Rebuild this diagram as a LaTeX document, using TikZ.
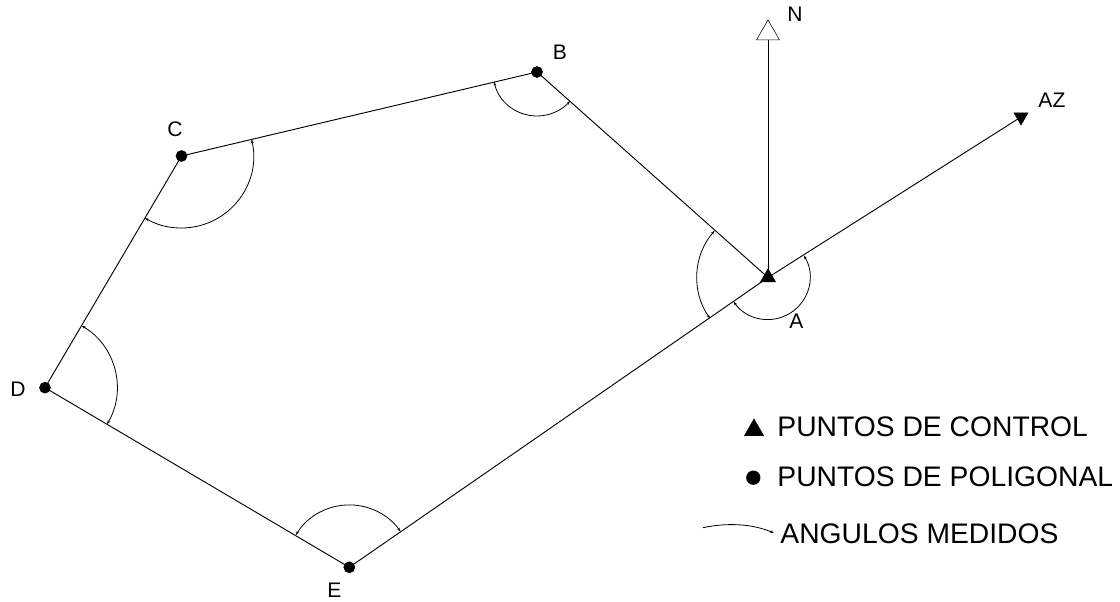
\documentclass[tikz,border=0pt]{standalone}
\usepackage{fontspec}
\setmainfont{Liberation Sans}
\usetikzlibrary{shapes.geometric,arrows.meta,positioning}

\tikzset{
  pto/.style={draw, circle, fill=black, inner sep=0pt, outer sep=0pt, minimum size=8pt},
  trng/.style={draw, regular polygon, regular polygon sides=3, inner sep=0pt, outer sep=0pt, line width=0.4pt},
  lbl/.style={anchor=base west, inner sep=0pt, font=\fontsize{15.8}{18}\selectfont},
  ley/.style={anchor=base west, inner sep=0pt, font=\fontsize{21.2}{25}\selectfont},
  ang/.style={line width=0.6pt, {Stealth[length=3pt,width=2pt]}-{Stealth[length=3pt,width=2pt]}}
}

\begin{document}
\begin{tikzpicture}[x=0.75pt, y=0.75pt, line width=0.7pt]
  \useasboundingbox (0,0) rectangle (1120,602);

  \node [trng, fill=black, minimum size=13pt] at (768,324.5) (A) {};
  \node [pto] at (537,530) (B) {};
  \node [pto] at (181.5,446) (C) {};
  \node [pto] at (45,214.3) (D) {};
  \node [pto] at (349.3,34.7) (E) {};

  \node [trng, minimum size=20pt] at (768,568.7) (N) {};
  \node [trng, fill=black, shape border rotate=180, minimum size=12pt] at (1021,485) (Z) {};

  \node [lbl] at (787,580.3) (lN) {N};
  \node [lbl] at (1038,494) (lZ) {AZ};
  \node [lbl] at (789,273) (lA) {A};
  \node [lbl] at (552.5,542) (lB) {B};
  \node [lbl] at (167,465) (lC) {C};
  \node [lbl] at (10,205) (lD) {D};
  \node [lbl] at (327,4) (lE) {E};

  \draw (A.center) -- (B);
  \draw (B) -- (C);
  \draw (C) -- (D);
  \draw (D) -- (E);
  \draw (E) -- (A.center);
  \draw (A.center) -- (N);
  \draw (A.center) -- (Z.center);

  % angulos
  \draw [ang] (A.center) ++(138.7:71) arc[start angle=138.7, end angle=215.3, radius=71];
  \draw [ang] (A.center) ++(31.6:42) arc[start angle=31.6, end angle=-145, radius=42];
  \draw [ang] (B) ++(193:44) arc[start angle=193, end angle=318.7, radius=44];
  \draw [ang] (C) ++(13.4:72) arc[start angle=13.4, end angle=-120.4, radius=72];
  \draw [ang] (D) ++(59.4:72) arc[start angle=59.4, end angle=-30.4, radius=72];
  \draw [ang] (E) ++(148.8:62.4) arc[start angle=148.8, end angle=34.7, radius=62.4];

  % leyenda
  \node [trng, fill=black, minimum size=16.5pt] at (754,172) (t1) {};
  \node [pto, minimum size=10pt] at (753.3,124.3) (t2) {};
  \coordinate (t3a) at (703,74.3);
  \coordinate (t3b) at (774,69);
  \node [ley] at (777,165.3) (l1) {PUNTOS DE CONTROL};
  \node [ley] at (777,115) (l2) {PUNTOS DE POLIGONAL};
  \node [ley] at (780,58) (l3) {ANGULOS MEDIDOS};
  \draw [line width=0.6pt, -{Stealth[length=3pt,width=2pt]}] (t3a) .. controls (725,79) and (750,79) .. (t3b);
\end{tikzpicture}
\end{document}
